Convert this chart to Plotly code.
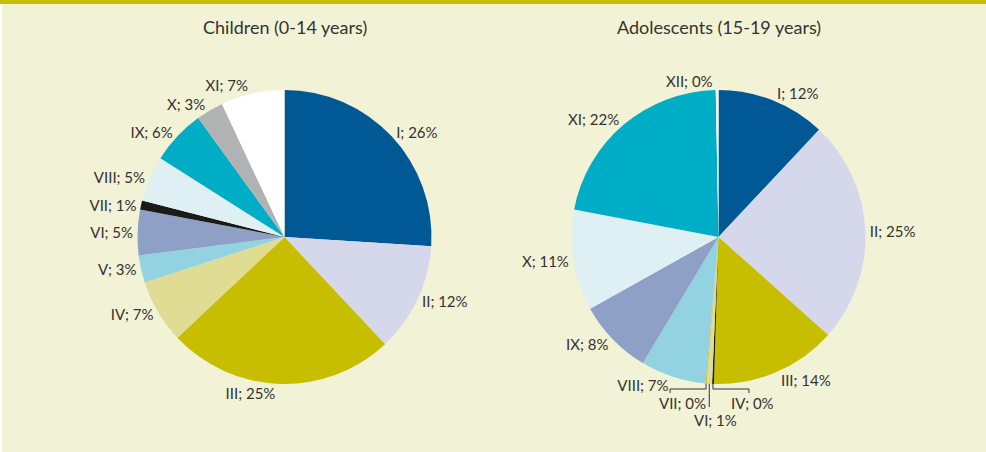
import math
import plotly.graph_objects as go

W, H = 986, 452
BG = "#F2F2D6"
INK = "#333333"
FONT = "Lato"

# Children (0-14 years)
child_labels = ["I", "II", "III", "IV", "V", "VI", "VII", "VIII", "IX", "X", "XI"]
child_values = [26, 12, 25, 7, 3, 5, 1, 5, 6, 3, 7]
child_colors = ["#005895", "#D5D8EA", "#C8BE00", "#E0DC94", "#93D3E1", "#8EA0C6",
                "#1A1A1A", "#DFF0F4", "#00ADC6", "#B0B2B4", "#FFFFFF"]

# Adolescents (15-19 years)
adol_labels = ["I", "II", "III", "IV", "VI", "VII", "VIII", "IX", "X", "XI", "XII"]
adol_values = [12, 24.6, 13.9, 0.2, 0.6, 0.1, 7.2, 8.3, 11.1, 21.7, 0.3]
adol_colors = ["#005895", "#D5D8EA", "#C8BE00", "#1A1A1A", "#E0DC94", "#C8BE00",
               "#93D3E1", "#8EA0C6", "#DFF0F4", "#00ADC6", "#FFFFFF"]
adol_leader = ["IV", "VI", "VII"]   # labelled below the pie with leader lines

R = 147
CHILD_C = (284.5, 237)
ADOL_C = (718.5, 237)


def px(x):
    return x / W


def py(y):
    return 1 - y / H


def domain(c):
    return dict(x=[px(c[0] - R), px(c[0] + R)], y=[py(c[1] + R), py(c[1] - R)])


def texts(labels, values, skip=()):
    return ["" if l in skip else f"{l}; {round(v)}%" for l, v in zip(labels, values)]


fig = go.Figure()
for labels, values, colors, c, skip in [
    (child_labels, child_values, child_colors, CHILD_C, ()),
    (adol_labels, adol_values, adol_colors, ADOL_C, adol_leader),
]:
    fig.add_trace(go.Pie(
        labels=labels, values=values, text=texts(labels, values, skip),
        textinfo="text", textposition="outside",
        outsidetextfont=dict(size=15, color=INK, family=FONT),
        marker=dict(colors=colors, line=dict(width=0)),
        sort=False, direction="clockwise", rotation=0,
        domain=domain(c), showlegend=False,
        hovertemplate="%{label}: %{value}%<extra></extra>",
    ))

# leader lines for the tiny adolescent slices
total = sum(adol_values)
cum = 0
edge = {}
for l, v in zip(adol_labels, adol_values):
    mid = (cum + v / 2) / total * 2 * math.pi
    edge[l] = (ADOL_C[0] + R * math.sin(mid), ADOL_C[1] - R * math.cos(mid))
    cum += v

yh = ADOL_C[1] + R + 5
shapes, annos = [], []


def seg(x0, y0, x1, y1):
    shapes.append(dict(type="line", xref="paper", yref="paper",
                       x0=px(x0), y0=py(y0), x1=px(x1), y1=py(y1),
                       line=dict(color=INK, width=1)))


def lab(x, y, t, size=15):
    annos.append(dict(x=px(x), y=py(y), xref="paper", yref="paper", text=t,
                      xanchor="center", yanchor="middle", showarrow=False,
                      font=dict(size=size, color=INK, family=FONT)))


vals = dict(zip(adol_labels, adol_values))
ex, ey = edge["IV"]
seg(ex, ey, ex, yh); seg(ex, yh, ex + 36, yh); seg(ex + 36, yh, ex + 36, yh + 4)
lab(ex + 40, yh + 14, f"IV; {round(vals['IV'])}%")
ex, ey = edge["VII"]
seg(ex, ey, ex, yh); seg(ex, yh, ex - 36, yh); seg(ex - 36, yh, ex - 36, yh + 4)
lab(ex - 24, yh + 14, f"VII; {round(vals['VII'])}%")
ex, ey = edge["VI"]
seg(ex, ey, ex, yh + 18)
lab(ex + 6, yh + 31, f"VI; {round(vals['VI'])}%")

# page furniture: olive top rule, thin white left edge
shapes.append(dict(type="rect", xref="paper", yref="paper", x0=0, x1=1, y0=py(4), y1=1,
                   fillcolor="#C8BE00", line=dict(width=0), layer="below"))
shapes.append(dict(type="rect", xref="paper", yref="paper", x0=0, x1=px(2), y0=0, y1=py(4),
                   fillcolor="#FFFFFF", line=dict(width=0), layer="below"))

for x, t in [(CHILD_C[0], "Children (0-14 years)"), (ADOL_C[0], "Adolescents (15-19 years)")]:
    lab(x, 27, t, size=18)

fig.update_layout(
    width=W, height=H,
    margin=dict(l=0, r=0, t=0, b=0),
    paper_bgcolor=BG, plot_bgcolor=BG,
    font=dict(family=FONT, color=INK),
    shapes=shapes, annotations=annos,
)
fig.write_html("out.html", config={"displayModeBar": False},
               post_script="document.body.style.margin='0';")
